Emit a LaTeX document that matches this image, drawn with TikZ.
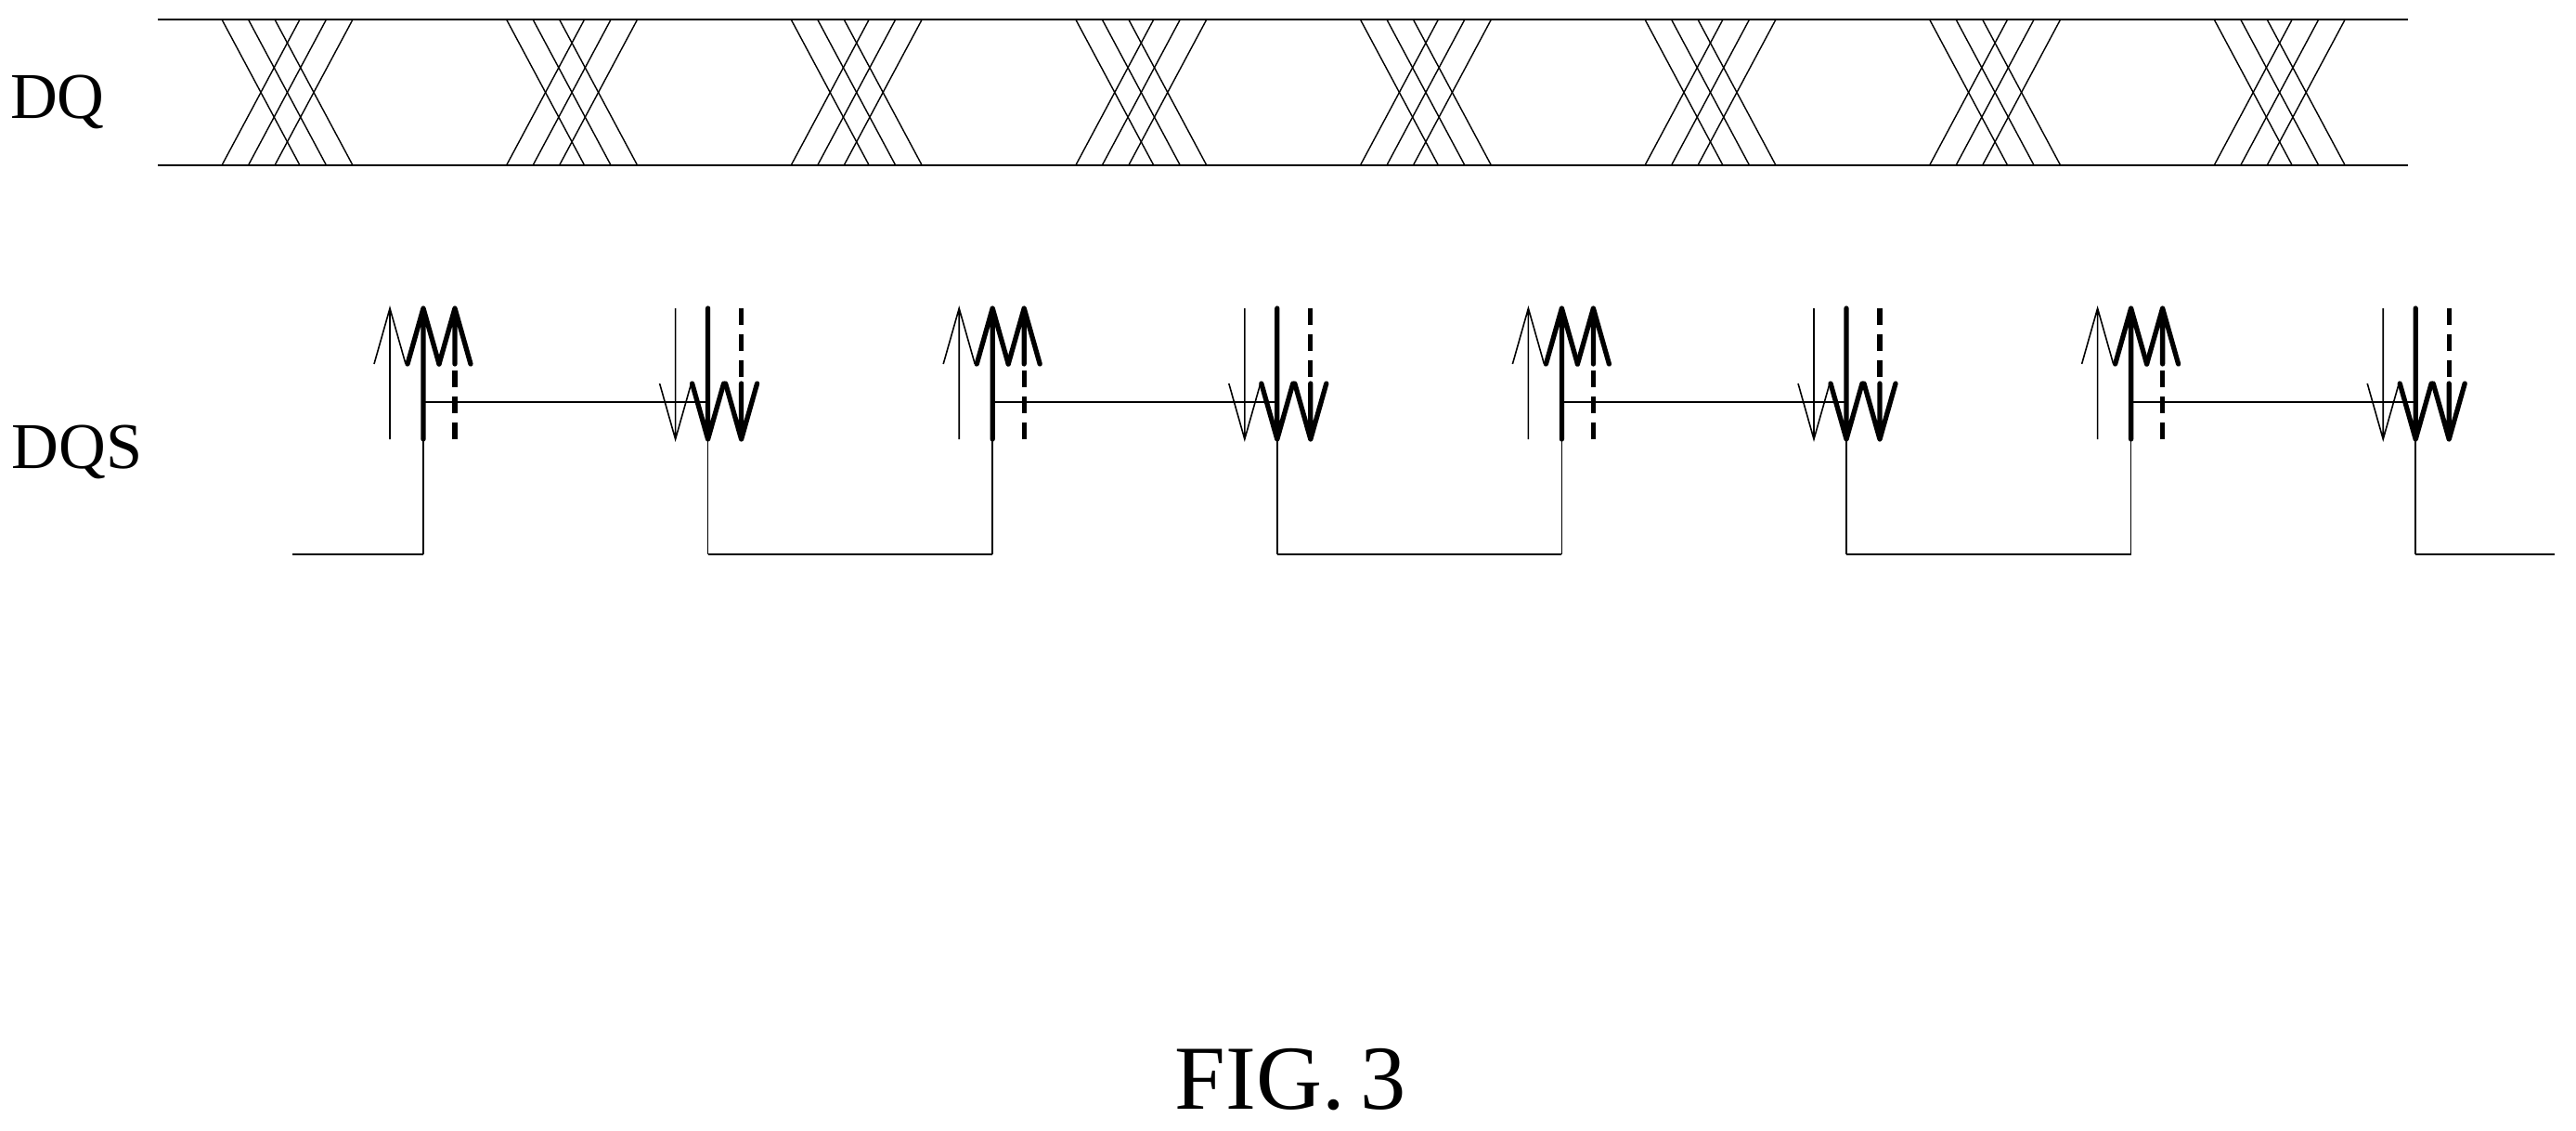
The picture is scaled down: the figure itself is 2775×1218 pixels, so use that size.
\documentclass[tikz,border=0pt]{standalone}
\usepackage{fontspec}
\setmainfont{Liberation Serif}
\begin{document}
\begin{tikzpicture}[x=0.01cm,y=-0.01cm,
  thin line/.style={line width=0.45pt},
  thick line/.style={line width=1.5pt},
  dash line/.style={line width=1.5pt,dash pattern=on 5pt off 3pt},
  lbl/.style={font=\fontsize{20}{22}\selectfont}]
\useasboundingbox (0,0) rectangle (2775,1218);
% DQ bus
\draw[thin line] (170,21) -- (2594,21);
\draw[thin line] (170,178) -- (2594,178);
\foreach \k in {0,...,7}{
  \pgfmathsetmacro{\s}{239+306.6*\k}
  \foreach \d in {0,28.5,57}{
    \draw[line width=0.4pt] (\s+\d,21) -- (\s+\d+84,178);
    \draw[line width=0.4pt] (\s+\d+84,21) -- (\s+\d,178);
  }
}
\node[lbl] (dq) at (62,110) {DQ};
\node[lbl] (dqs) at (83,487) {DQS};
% DQS waveform
\draw[thin line] (315,597) -- (456,597);
\foreach \k in {0,2,4,6}{
  \pgfmathsetmacro{\r}{456+306.6*\k}
  \pgfmathsetmacro{\f}{456+306.6*(\k+1)}
  \pgfmathsetmacro{\n}{456+306.6*(\k+2)}
  % rising edge arrows
  \draw[thin line] (\r,597) -- (\r,473);
  \draw[thin line] (\r-36,473) -- (\r-36,332) (\r-53,392) -- (\r-36,332) -- (\r-19,392);
  \draw[thick line,line join=round,line cap=round] (\r,473) -- (\r,332) (\r-17,392) -- (\r,332) -- (\r+17,392);
  \draw[dash line] (\r+34,473) -- (\r+34,392);
  \draw[thick line,line join=round,line cap=round] (\r+34,392) -- (\r+34,332) (\r+17,392) -- (\r+34,332) -- (\r+51,392);
  \draw[thin line] (\r,433) -- (\f,433);
  % falling edge arrows
  \draw[thin line] (\f-35,332) -- (\f-35,473) (\f-52,413) -- (\f-35,473) -- (\f-18,413);
  \draw[thick line,line join=round,line cap=round] (\f,332) -- (\f,473) (\f-17,413) -- (\f,473) -- (\f+17,413);
  \draw[dash line] (\f+36,332) -- (\f+36,413);
  \draw[thick line,line join=round,line cap=round] (\f+36,413) -- (\f+36,473) (\f+19,413) -- (\f+36,473) -- (\f+53,413);
  \draw[thin line] (\f,473) -- (\f,597);
  \ifnum\k<6
    \draw[thin line] (\f,597) -- (\n,597);
  \else
    \draw[thin line] (\f,597) -- (2752,597);
  \fi
}
\node[font=\fontsize{28}{30}\selectfont] (fig) at (1390,1163) {FIG.\,3};
\end{tikzpicture}
\end{document}
